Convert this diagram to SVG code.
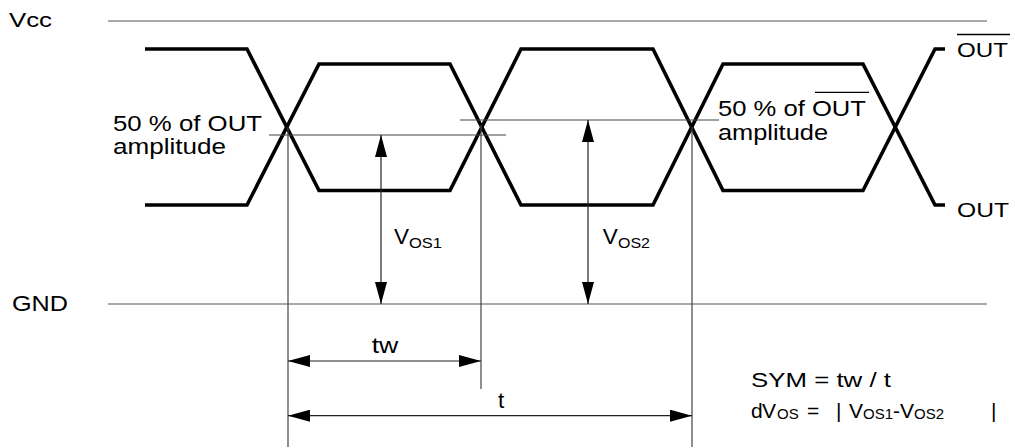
<svg xmlns="http://www.w3.org/2000/svg" width="1015" height="448" viewBox="0 0 1015 448">
<style>
  text { font-family: "Liberation Sans", Arial, sans-serif; fill: #000; }
  .lbl { font-size: 22.5px; }
  .sm { font-size: 20px; }
  .fm { font-size: 21px; }
  .sub { font-size: 14px; }
  .fsub { font-size: 15px; }
  .rail { stroke: #555; stroke-width: 1.2; fill: none; }
  .guide { stroke: #444; stroke-width: 1.2; fill: none; }
  .wave { stroke: #000; stroke-width: 3.6; fill: none; stroke-linejoin: miter; }
  .dim { stroke: #222; stroke-width: 1.2; fill: none; marker-start: url(#arr); marker-end: url(#arr); }
  .ovl { stroke: #000; stroke-width: 1.3; }
</style>
<defs>
  <marker id="arr" markerUnits="userSpaceOnUse" markerWidth="22" markerHeight="12" refX="22" refY="6" orient="auto-start-reverse" viewBox="0 0 22 12">
    <path d="M0,0 L22,6 L0,12 z" fill="#000"/>
  </marker>
</defs>
<rect width="1015" height="448" fill="#fff"/>

<g id="vcc">
  <line class="rail" x1="108" y1="21" x2="987" y2="21"/>
  <text class="sm" x="9" y="26.7" textLength="43" lengthAdjust="spacingAndGlyphs">Vcc</text>
</g>
<g id="gnd">
  <line class="rail" x1="108" y1="304" x2="987" y2="304"/>
  <text class="lbl" x="12" y="310.7" textLength="56" lengthAdjust="spacingAndGlyphs">GND</text>
</g>

<g id="waveform-outbar">
  <path class="wave" d="M145,49 L247,49 L319,190.5 L450,190.5 L521,49 L653,49 L723,190.5 L863,190.5 L935,49 L945,49"/>
  <text class="sm" x="957" y="56.7" textLength="51" lengthAdjust="spacingAndGlyphs">OUT</text>
  <line class="ovl" x1="957" y1="34.5" x2="1010" y2="34.5"/>
</g>
<g id="waveform-out">
  <path class="wave" d="M145,205 L247,205 L319,64 L450,64 L521,205 L653,205 L723,64 L863,64 L935,205 L945,205"/>
  <text class="sm" x="957" y="216.7" textLength="52" lengthAdjust="spacingAndGlyphs">OUT</text>
</g>

<g id="label-50-out">
  <text class="lbl" x="113" y="131" textLength="149" lengthAdjust="spacingAndGlyphs">50 % of OUT</text>
  <text class="lbl" x="113" y="154.3" textLength="113" lengthAdjust="spacingAndGlyphs">amplitude</text>
</g>
<g id="label-50-outbar">
  <text class="lbl" x="718" y="116" textLength="148" lengthAdjust="spacingAndGlyphs">50 % of OUT</text>
  <line class="ovl" x1="815" y1="92.3" x2="869" y2="92.3"/>
  <text class="lbl" x="718" y="140" textLength="110" lengthAdjust="spacingAndGlyphs">amplitude</text>
</g>

<g id="connectors">
  <line class="guide" x1="269" y1="135" x2="506" y2="135"/>
  <line class="guide" x1="460" y1="120" x2="719" y2="120"/>
  <line class="guide" x1="288" y1="127" x2="288" y2="447"/>
  <line class="guide" x1="481" y1="125" x2="481" y2="389"/>
  <line class="guide" x1="692" y1="127" x2="692" y2="447"/>
  <line class="dim" x1="381" y1="135" x2="381" y2="304"/>
  <line class="dim" x1="588" y1="120" x2="588" y2="304"/>
  <line class="dim" x1="288" y1="361" x2="481" y2="361"/>
  <line class="dim" x1="288" y1="415.7" x2="692" y2="415.7"/>
</g>

<g id="label-vos1">
  <text class="lbl" x="394" y="244.3">V</text>
  <text class="sub" x="409" y="247.7" textLength="33" lengthAdjust="spacingAndGlyphs">OS1</text>
</g>
<g id="label-vos2">
  <text class="lbl" x="602.7" y="244.3">V</text>
  <text class="sub" x="618" y="247.7" textLength="32" lengthAdjust="spacingAndGlyphs">OS2</text>
</g>
<g id="label-tw">
  <text class="lbl" x="371.7" y="353.3" textLength="26.6" lengthAdjust="spacingAndGlyphs">tw</text>
</g>
<g id="label-t">
  <text class="lbl" x="498" y="408.3">t</text>
</g>

<g id="formulas">
  <text class="fm" x="751" y="387" textLength="140" lengthAdjust="spacingAndGlyphs">SYM = tw / t</text>
  <text class="fm" y="417.7"><tspan x="751">d</tspan><tspan x="762">V</tspan><tspan class="fsub" x="777" y="419.3">OS</tspan><tspan x="807" y="417.7">=</tspan><tspan x="836">|</tspan><tspan x="849">V</tspan><tspan class="fsub" x="863" y="419.3">OS1</tspan><tspan x="893" y="417.7">-</tspan><tspan x="900">V</tspan><tspan class="fsub" x="914" y="419.3">OS2</tspan><tspan x="991" y="417.7">|</tspan></text>
</g>
</svg>
